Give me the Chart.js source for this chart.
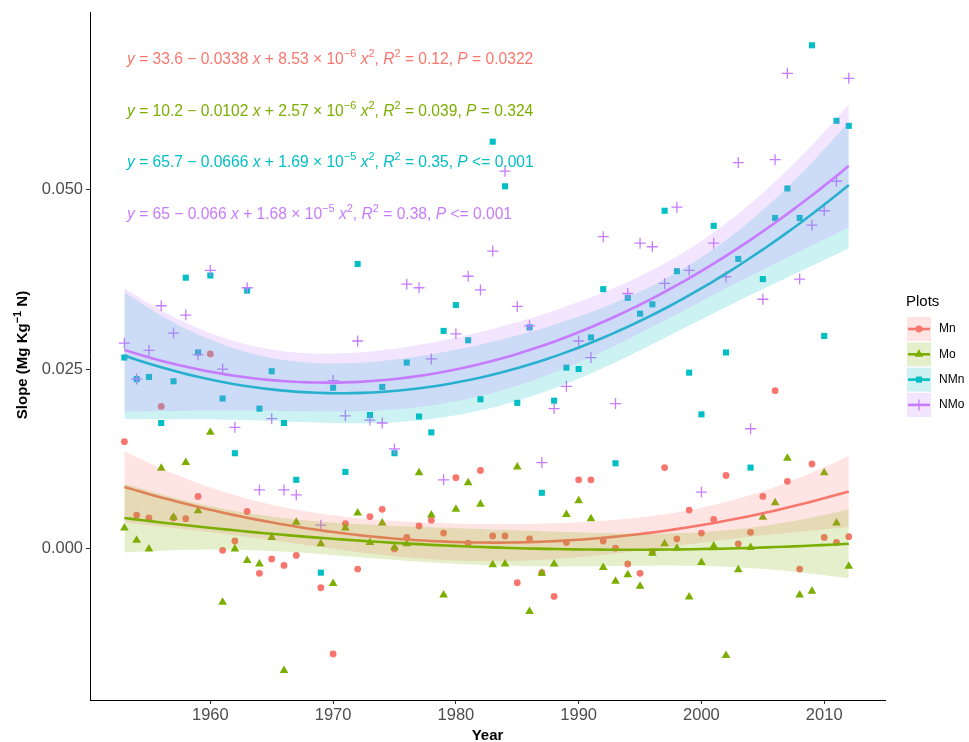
<!DOCTYPE html>
<html>
<head>
<meta charset="utf-8">
<script src="https://cdn.jsdelivr.net/npm/chart.js@4/dist/chart.umd.min.js"></script>
<style>
  html, body { margin: 0; padding: 0; background: #ffffff; }
  #wrap { width: 969px; height: 742px; position: relative; }
</style>
</head>
<body>
<div id="wrap"><canvas id="chart" width="969" height="742"></canvas></div>
<script>
// ---- data: yearly slopes per plot (1968 not sampled) ----
const years = [1953, 1954, 1955, 1956, 1957, 1958, 1959, 1960, 1961, 1962, 1963, 1964, 1965, 1966, 1967,
  1969, 1970, 1971, 1972, 1973, 1974, 1975, 1976, 1977, 1978, 1979, 1980, 1981, 1982, 1983, 1984,
  1985, 1986, 1987, 1988, 1989, 1990, 1991, 1992, 1993, 1994, 1995, 1996, 1997, 1998, 1999, 2000,
  2001, 2002, 2003, 2004, 2005, 2006, 2007, 2008, 2009, 2010, 2011, 2012];

const mnSlope = [0.0149, 0.0047, 0.0043, 0.0198, 0.0043, 0.0042, 0.0073, 0.0271, -0.0002, 0.0011, 0.0052, -0.0034, -0.0014, -0.0023, -0.0009,
  -0.0054, -0.0146, 0.0035, -0.0028, 0.0045, 0.0055, 0.0000, 0.0016, 0.0032, 0.0040, 0.0022, 0.0099, 0.0008, 0.0109, 0.0018, 0.0018,
  -0.0047, 0.0014, -0.0033, -0.0066, 0.0009, 0.0096, 0.0096, 0.0011, 0.0001, -0.0021, -0.0034, -0.0004, 0.0113, 0.0014, 0.0054, 0.0022,
  0.0041, 0.0102, 0.0007, 0.0023, 0.0073, 0.0220, 0.0094, -0.0028, 0.0118, 0.0016, 0.0009, 0.0017];

const moSlope = [0.0029, 0.0012, 0.0000, 0.0112, 0.0044, 0.0120, 0.0053, 0.0162, -0.0074, 0.0000, -0.0016, -0.0021, 0.0016, -0.0169, 0.0037,
  0.0007, -0.0048, 0.0029, 0.0050, 0.0009, 0.0036, 0.0002, 0.0007, 0.0106, 0.0047, -0.0064, 0.0055, 0.0092, 0.0062, -0.0022, -0.0021,
  0.0114, -0.0087, -0.0034, -0.0021, 0.0048, 0.0067, 0.0042, -0.0026, -0.0045, -0.0036, -0.0052, -0.0006, 0.0007, 0.0001, -0.0067, -0.0019,
  0.0004, -0.0148, -0.0029, 0.0002, 0.0044, 0.0064, 0.0126, -0.0064, -0.0059, 0.0106, 0.0036, -0.0024];

const nmnSlope = [0.0266, 0.0236, 0.0239, 0.0175, 0.0233, 0.0377, 0.0273, 0.0380, 0.0209, 0.0133, 0.0359, 0.0195, 0.0247, 0.0175, 0.0096,
  -0.0033, 0.0224, 0.0107, 0.0396, 0.0186, 0.0225, 0.0133, 0.0259, 0.0184, 0.0162, 0.0303, 0.0339, 0.0290, 0.0208, 0.0566, 0.0504,
  0.0203, 0.0308, 0.0078, 0.0206, 0.0252, 0.0250, 0.0294, 0.0361, 0.0119, 0.0349, 0.0327, 0.0340, 0.0470, 0.0386, 0.0245, 0.0187,
  0.0449, 0.0273, 0.0403, 0.0113, 0.0375, 0.0460, 0.0501, 0.0460, 0.0700, 0.0296, 0.0595, 0.0588];

const nmoSlope = [0.0286, 0.0236, 0.0276, 0.0338, 0.0300, 0.0325, 0.0270, 0.0387, 0.0250, 0.0169, 0.0363, 0.0082, 0.0181, 0.0082, 0.0075,
  0.0033, 0.0234, 0.0185, 0.0289, 0.0179, 0.0175, 0.0139, 0.0368, 0.0363, 0.0264, 0.0096, 0.0299, 0.0379, 0.0360, 0.0414, 0.0525,
  0.0337, 0.0310, 0.0120, 0.0195, 0.0226, 0.0289, 0.0266, 0.0434, 0.0202, 0.0355, 0.0425, 0.0420, 0.0369, 0.0475, 0.0387, 0.0079,
  0.0425, 0.0378, 0.0537, 0.0167, 0.0347, 0.0541, 0.0661, 0.0375, 0.0450, 0.0470, 0.0511, 0.0654];

const seriesNames = ['Mn', 'Mo', 'NMn', 'NMo'];
const seriesValues = [mnSlope, moSlope, nmnSlope, nmoSlope];
const xTicks = [1960, 1970, 1980, 1990, 2000, 2010];
const yTicks = [0, 0.025, 0.05];

// fitted-equation labels (raw polynomial coefficients)
const eqIntercept = ['33.6', '10.2', '65.7', '65'];
const eqLinear = ['0.0338', '0.0102', '0.0666', '0.066'];
const eqQuadMantissa = ['8.53', '2.57', '1.69', '1.68'];
const eqQuadExponent = ['\u22126', '\u22126', '\u22125', '\u22125'];
const eqR2 = ['0.12', '0.039', '0.35', '0.38'];
const eqP = ['= 0.0322', '= 0.324', '<= 0.001', '<= 0.001'];

// ---- styling ----
const COLORS = ['#F8766D', '#7CAE00', '#00BFC4', '#C77CFF'];
const POINT_STYLE = ['circle', 'triangle', 'rect', 'cross'];
const POINT_RADIUS = [3.4, 5, 4.3, 5.5];
const BAND_ALPHA = 0.2;
const FONT = '"Liberation Sans", Arial, Helvetica, sans-serif';
const PLOT = { left: 90, top: 10, right: 885, bottom: 700 };

function rgba(hex, a) {
  const n = parseInt(hex.slice(1), 16);
  return `rgba(${(n >> 16) & 255},${(n >> 8) & 255},${n & 255},${a})`;
}

// ---- quadratic least-squares fit with 95% confidence band ----
function inv3(m) {
  const [a, b, c] = m[0], [d, e, f] = m[1], [g, h, i] = m[2];
  const A = e * i - f * h, B = -(d * i - f * g), C = d * h - e * g;
  const det = a * A + b * B + c * C;
  return [
    [A / det, -(b * i - c * h) / det, (b * f - c * e) / det],
    [B / det, (a * i - c * g) / det, -(a * f - c * d) / det],
    [C / det, -(a * h - b * g) / det, (a * e - b * d) / det]
  ];
}
function tQuantile975(df) {
  const z = 1.959964;
  return z + (z ** 3 + z) / (4 * df) + (5 * z ** 5 + 16 * z ** 3 + 3 * z) / (96 * df * df);
}
function quadFit(xs, ys) {
  const n = xs.length;
  const xc = xs.reduce((s, v) => s + v, 0) / n;
  const basis = x => { const u = (x - xc) / 10; return [1, u, u * u]; };
  const XtX = [[0, 0, 0], [0, 0, 0], [0, 0, 0]], Xty = [0, 0, 0];
  xs.forEach((x, k) => {
    const v = basis(x);
    for (let r = 0; r < 3; r++) {
      Xty[r] += v[r] * ys[k];
      for (let c = 0; c < 3; c++) XtX[r][c] += v[r] * v[c];
    }
  });
  const Inv = inv3(XtX);
  const beta = Inv.map(row => row[0] * Xty[0] + row[1] * Xty[1] + row[2] * Xty[2]);
  let sse = 0;
  xs.forEach((x, k) => { const v = basis(x); const f = v[0] * beta[0] + v[1] * beta[1] + v[2] * beta[2]; sse += (ys[k] - f) ** 2; });
  const df = n - 3, s2 = sse / df, t = tQuantile975(df);
  return x => {
    const v = basis(x);
    const fit = v[0] * beta[0] + v[1] * beta[1] + v[2] * beta[2];
    let q = 0;
    for (let r = 0; r < 3; r++) for (let c = 0; c < 3; c++) q += v[r] * Inv[r][c] * v[c];
    const half = t * Math.sqrt(s2 * q);
    return { fit, lo: fit - half, hi: fit + half };
  };
}

// evaluation grid for the smoothers (80 steps across the observed years)
const x0 = years[0], x1 = years[years.length - 1];
const smoothX = Array.from({ length: 80 }, (_, k) => x0 + (x1 - x0) * k / 79);

// ---- datasets: points at the bottom, then band + line per series ----
const datasets = [];
seriesNames.forEach((name, s) => {
  const filled = POINT_STYLE[s] !== 'cross';
  datasets.push({
    type: 'scatter',
    label: name,
    data: years.map((yr, k) => ({ x: yr, y: seriesValues[s][k] })),
    pointStyle: POINT_STYLE[s],
    pointRadius: POINT_RADIUS[s],
    backgroundColor: COLORS[s],
    borderColor: COLORS[s],
    borderWidth: filled ? 0 : 1.3,
    pointBorderWidth: filled ? 0 : 1.3
  });
});
seriesNames.forEach((name, s) => {
  const model = quadFit(years, seriesValues[s]);
  const pred = smoothX.map(x => ({ x, ...model(x) }));
  const upperIdx = datasets.length;
  datasets.push({
    type: 'line', label: name + ' upper',
    data: pred.map(p => ({ x: p.x, y: p.hi })),
    borderWidth: 0, borderColor: 'rgba(0,0,0,0)', pointRadius: 0, fill: false, tension: 0
  });
  datasets.push({
    type: 'line', label: name + ' lower',
    data: pred.map(p => ({ x: p.x, y: p.lo })),
    borderWidth: 0, borderColor: 'rgba(0,0,0,0)', pointRadius: 0, tension: 0,
    fill: upperIdx, backgroundColor: rgba(COLORS[s], BAND_ALPHA)
  });
  datasets.push({
    type: 'line', label: name + ' fit',
    data: pred.map(p => ({ x: p.x, y: p.fit })),
    borderColor: COLORS[s], borderWidth: 2.6, pointRadius: 0, fill: false, tension: 0,
    borderCapStyle: 'butt'
  });
});
// later entries are painted on top
datasets.forEach((d, k) => { d.order = 1000 - k; });

// ---- rich text helper (italic / superscript runs) ----
function fontFor(sg, size, weight) {
  const fs = sg.sup ? Math.round(size * 0.72) : size;
  return `${sg.it ? 'italic ' : ''}${weight || ''} ${fs}px ${FONT}`;
}
function drawRich(ctx, x, y, segs, color, size, weight) {
  ctx.save();
  ctx.fillStyle = color;
  ctx.textBaseline = 'alphabetic';
  ctx.textAlign = 'left';
  for (const sg of segs) {
    ctx.font = fontFor(sg, size, weight);
    ctx.fillText(sg.t, x, y - (sg.sup ? size * 0.42 : 0));
    x += ctx.measureText(sg.t).width;
  }
  ctx.restore();
  return x;
}
function richWidth(ctx, segs, size, weight) {
  let w = 0;
  ctx.save();
  for (const sg of segs) { ctx.font = fontFor(sg, size, weight); w += ctx.measureText(sg.t).width; }
  ctx.restore();
  return w;
}
function equationSegs(s) {
  return [
    { t: 'y', it: true }, { t: ' = ' + eqIntercept[s] + ' \u2212 ' + eqLinear[s] + ' ' }, { t: 'x', it: true },
    { t: ' + ' + eqQuadMantissa[s] + ' \u00d7 10' }, { t: eqQuadExponent[s], sup: true }, { t: ' ' },
    { t: 'x', it: true }, { t: '2', sup: true }, { t: ', ' }, { t: 'R', it: true }, { t: '2', sup: true },
    { t: ' = ' + eqR2[s] + ', ' }, { t: 'P', it: true }, { t: ' ' + eqP[s] }
  ];
}

function glyph(ctx, s, x, y) {
  ctx.fillStyle = COLORS[s];
  ctx.strokeStyle = COLORS[s];
  ctx.lineWidth = POINT_STYLE[s] === 'cross' ? 1.3 : 0;
  Chart.helpers.drawPoint(ctx, {
    pointStyle: POINT_STYLE[s], radius: POINT_RADIUS[s], rotation: 0,
    borderWidth: POINT_STYLE[s] === 'cross' ? 1.3 : 0
  }, x, y);
}

// equations, y-axis title and legend
const decorations = {
  id: 'decorations',
  afterDraw(chart) {
    const ctx = chart.ctx;
    const eqY = [64, 116, 167, 219];
    seriesNames.forEach((_, s) => drawRich(ctx, 127, eqY[s], equationSegs(s), COLORS[s], 15.6));

    // y-axis title
    const ySegs = [{ t: 'Slope (Mg Kg' }, { t: '\u22121', sup: true }, { t: ' N)' }];
    ctx.save();
    ctx.translate(27, 355);
    ctx.rotate(-Math.PI / 2);
    const w = richWidth(ctx, ySegs, 15, 'bold');
    drawRich(ctx, -w / 2, 0, ySegs, '#000000', 15, 'bold');
    ctx.restore();

    // legend
    ctx.save();
    ctx.fillStyle = '#000000';
    ctx.font = `15px ${FONT}`;
    ctx.textBaseline = 'middle';
    ctx.textAlign = 'left';
    ctx.fillText('Plots', 906, 302);
    const keyX = 907, keyW = 24, keyH = 24;
    seriesNames.forEach((name, s) => {
      const cy = 329 + s * 25.3;
      ctx.fillStyle = rgba(COLORS[s], BAND_ALPHA);
      ctx.fillRect(keyX, cy - keyH / 2, keyW, keyH);
      ctx.strokeStyle = COLORS[s];
      ctx.lineWidth = 2.6;
      ctx.beginPath(); ctx.moveTo(keyX + 1, cy); ctx.lineTo(keyX + keyW - 1, cy); ctx.stroke();
      glyph(ctx, s, keyX + keyW / 2, cy);
      ctx.fillStyle = '#000000';
      ctx.font = `12px ${FONT}`;
      ctx.fillText(name, 939, cy);
    });
    ctx.restore();
  }
};

const tickFont = { family: FONT, size: 16.5 };
new Chart(document.getElementById('chart'), {
  type: 'scatter',
  data: { datasets },
  options: {
    responsive: false,
    animation: false,
    devicePixelRatio: 1,
    layout: { padding: { left: 0, top: PLOT.top, right: 969 - PLOT.right, bottom: 0 } },
    plugins: { legend: { display: false }, tooltip: { enabled: false } },
    scales: {
      x: {
        type: 'linear',
        min: 1950.2,
        max: 2014.95,
        afterBuildTicks: sc => { sc.ticks = xTicks.map(v => ({ value: v })); },
        afterFit: sc => { sc.height = 742 - PLOT.bottom; },
        grid: { display: true, drawOnChartArea: false, drawTicks: true, tickLength: 4, tickColor: '#333333', tickWidth: 1 },
        border: { display: true, color: '#000000', width: 1 },
        ticks: { font: tickFont, color: '#4D4D4D', padding: 2, callback: v => String(v), maxRotation: 0, autoSkip: false },
        title: { display: true, text: 'Year', font: { family: FONT, size: 15, weight: 'bold' }, color: '#000000', padding: { top: 0, bottom: -3 } }
      },
      y: {
        type: 'linear',
        min: -0.021,
        max: 0.0745,
        afterBuildTicks: sc => { sc.ticks = yTicks.map(v => ({ value: v })); },
        afterFit: sc => { sc.width = PLOT.left; },
        grid: { display: true, drawOnChartArea: false, drawTicks: true, tickLength: 4, tickColor: '#333333', tickWidth: 1 },
        border: { display: true, color: '#000000', width: 1 },
        ticks: { font: tickFont, color: '#4D4D4D', padding: 3, callback: v => v.toFixed(3) }
      }
    }
  },
  plugins: [decorations]
});
</script>
</body>
</html>
